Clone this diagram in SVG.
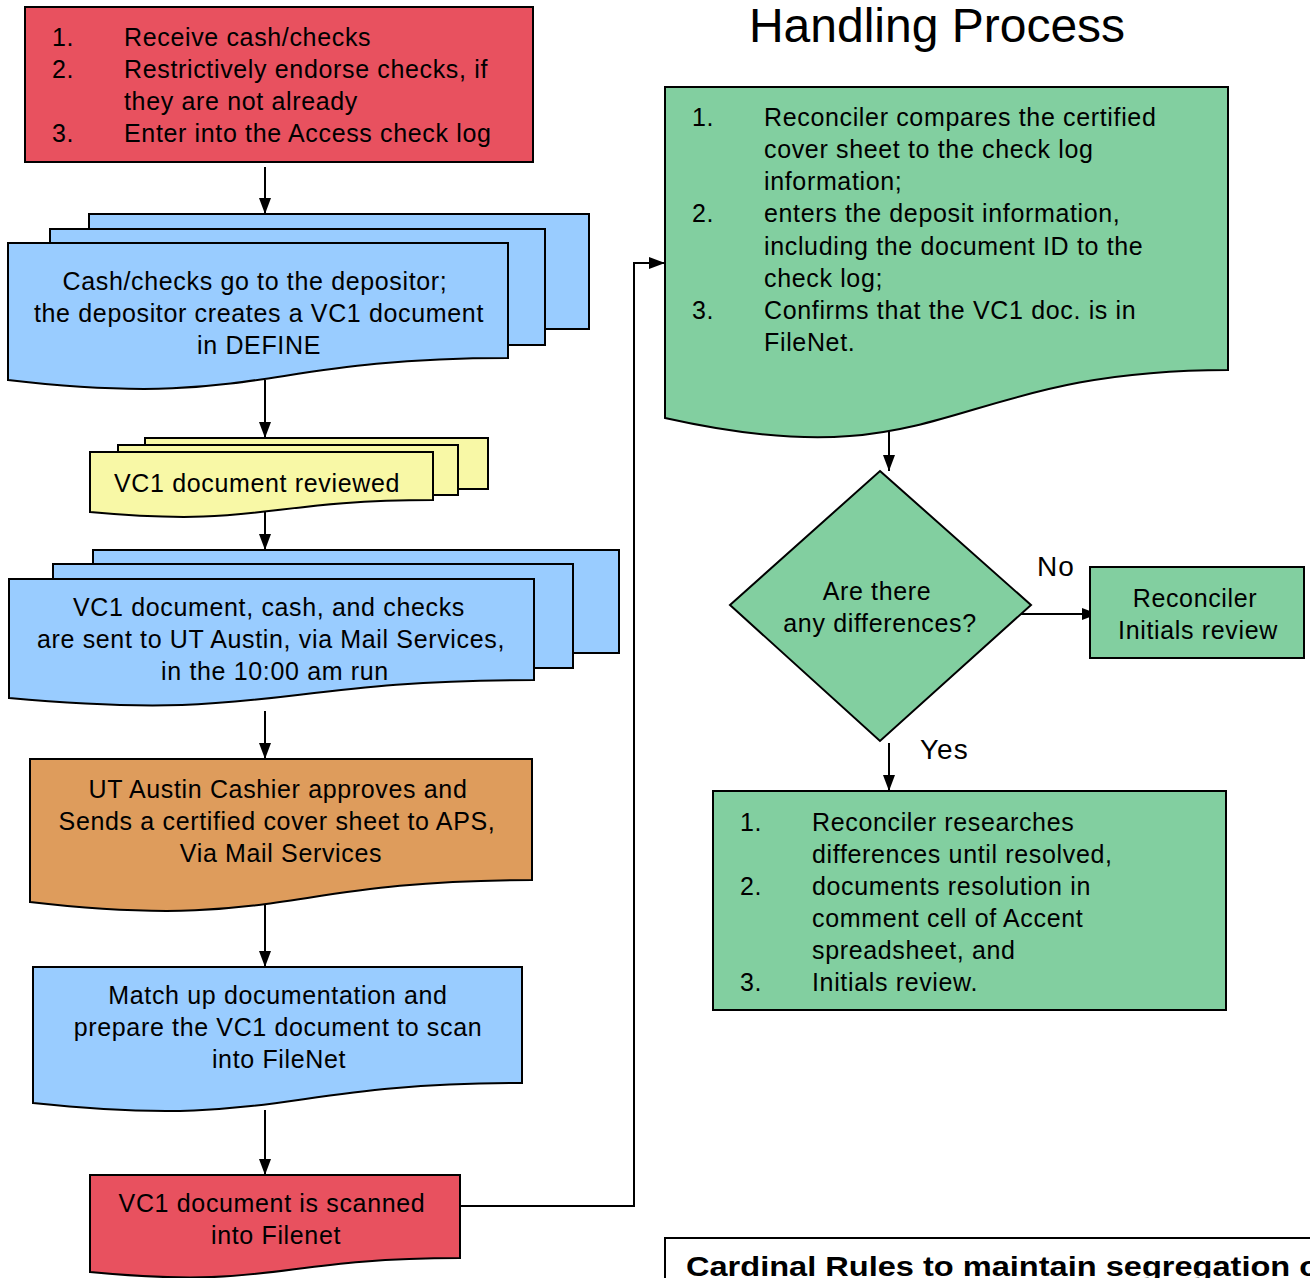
<svg xmlns="http://www.w3.org/2000/svg" width="1310" height="1278" viewBox="0 0 1310 1278">
<style>
  text { font-family: "Liberation Sans", Arial, sans-serif; font-size: 25px; letter-spacing: 0.65px; fill: #000; }
  .c { text-anchor: middle; }
  .shape { stroke: #000; stroke-width: 2; }
  .red { fill: #E8515F; }
  .blue { fill: #99CCFF; }
  .yellow { fill: #F8F8A6; }
  .orange { fill: #DE9C5C; }
  .green { fill: #82CFA0; }
  .conn { fill: none; stroke: #000; stroke-width: 2; }
  .title { font-size: 48px; letter-spacing: 0; }
  .lbl { font-size: 28px; letter-spacing: 1px; }
  .bold { font-weight: bold; font-size: 28px; letter-spacing: 0; }
</style>
<defs>
  <marker id="arr" markerUnits="userSpaceOnUse" markerWidth="16" markerHeight="16" viewBox="0 0 16 16" refX="16" refY="8" orient="auto">
    <path d="M0,2 L16,8 L0,14 Z" fill="#000"/>
  </marker>
</defs>

<text class="title c" x="937" y="42">Handling Process</text>

<g id="connectors">
  <line class="conn" x1="265" y1="167" x2="265" y2="214" marker-end="url(#arr)"/>
  <line class="conn" x1="265" y1="380" x2="265" y2="438" marker-end="url(#arr)"/>
  <line class="conn" x1="265" y1="505" x2="265" y2="550" marker-end="url(#arr)"/>
  <line class="conn" x1="265" y1="711" x2="265" y2="759" marker-end="url(#arr)"/>
  <line class="conn" x1="265" y1="903" x2="265" y2="967" marker-end="url(#arr)"/>
  <line class="conn" x1="265" y1="1110" x2="265" y2="1175" marker-end="url(#arr)"/>
  <path class="conn" d="M460,1206 H634 V263 H665" marker-end="url(#arr)"/>
  <line class="conn" x1="889" y1="423" x2="889" y2="471" marker-end="url(#arr)"/>
  <line class="conn" x1="1020" y1="614" x2="1098" y2="614" marker-end="url(#arr)"/>
  <line class="conn" x1="889" y1="743" x2="889" y2="791" marker-end="url(#arr)"/>
</g>

<g id="receive">
  <rect class="shape red" x="25" y="7" width="508" height="155"/>
  <text x="52" y="46">1.</text><text x="124" y="46">Receive cash/checks</text>
  <text x="52" y="78">2.</text><text x="124" y="78">Restrictively endorse checks, if</text>
  <text x="124" y="110">they are not already</text>
  <text x="52" y="142">3.</text><text x="124" y="142">Enter into the Access check log</text>
</g>

<g id="depositor">
  <rect class="shape blue" x="89" y="214" width="500" height="115"/>
  <rect class="shape blue" x="50" y="229" width="495" height="116"/>
  <path class="shape blue" d="M8,243 H508 V358 C258,358 258,409 8,380 Z"/>
  <text class="c" x="255" y="290">Cash/checks go to the depositor;</text>
  <text class="c" x="259" y="322">the depositor creates a VC1 document</text>
  <text class="c" x="259" y="354">in DEFINE</text>
</g>

<g id="reviewed">
  <rect class="shape yellow" x="145" y="438" width="343" height="51"/>
  <rect class="shape yellow" x="118" y="445" width="340" height="50"/>
  <path class="shape yellow" d="M90,452 H433 V500 C262,500 262,528 90,512 Z"/>
  <text x="114" y="492">VC1 document reviewed</text>
</g>

<g id="sent">
  <rect class="shape blue" x="93" y="550" width="526" height="103"/>
  <rect class="shape blue" x="53" y="564" width="520" height="104"/>
  <path class="shape blue" d="M9,579 H534 V680 C272,680 272,722 9,698 Z"/>
  <text class="c" x="269" y="616">VC1 document, cash, and checks</text>
  <text class="c" x="271" y="648">are sent to UT Austin, via Mail Services,</text>
  <text class="c" x="275" y="680">in the 10:00 am run</text>
</g>

<g id="cashier">
  <path class="shape orange" d="M30,759 H532 V880 C281,880 281,931 30,902 Z"/>
  <text class="c" x="278" y="798">UT Austin Cashier approves and</text>
  <text class="c" x="277" y="830">Sends a certified cover sheet to APS,</text>
  <text class="c" x="281" y="862">Via Mail Services</text>
</g>

<g id="match">
  <path class="shape blue" d="M33,967 H522 V1083 C278,1083 278,1129 33,1103 Z"/>
  <text class="c" x="278" y="1004">Match up documentation and</text>
  <text class="c" x="278" y="1036">prepare the VC1 document to scan</text>
  <text class="c" x="279" y="1068">into FileNet</text>
</g>

<g id="scanned">
  <path class="shape red" d="M90,1175 H460 V1258 C275,1258 275,1290 90,1272 Z"/>
  <text class="c" x="272" y="1212">VC1 document is scanned</text>
  <text class="c" x="276" y="1244">into Filenet</text>
</g>

<g id="reconcile">
  <path class="shape green" d="M665,87 H1228 V370 C946,370 946,481 665,418 Z"/>
  <text x="692" y="126">1.</text><text x="764" y="126">Reconciler compares the certified</text>
  <text x="764" y="158">cover sheet to the check log</text>
  <text x="764" y="190">information;</text>
  <text x="692" y="222">2.</text><text x="764" y="222">enters the deposit information,</text>
  <text x="764" y="255">including the document ID to the</text>
  <text x="764" y="287">check log;</text>
  <text x="692" y="319">3.</text><text x="764" y="319">Confirms that the VC1 doc. is in</text>
  <text x="764" y="351">FileNet.</text>
</g>

<g id="decision">
  <path class="shape green" d="M880,471 L1031,605 L880,741 L730,605 Z"/>
  <text class="c" x="877" y="600">Are there</text>
  <text class="c" x="880" y="632">any differences?</text>
</g>

<text class="lbl" x="1037" y="576">No</text>
<text class="lbl" x="920" y="759">Yes</text>

<g id="initials">
  <rect class="shape green" x="1090" y="567" width="214" height="91"/>
  <text class="c" x="1195" y="607">Reconciler</text>
  <text class="c" x="1198" y="639">Initials review</text>
</g>

<g id="research">
  <rect class="shape green" x="713" y="791" width="513" height="219"/>
  <text x="740" y="831">1.</text><text x="812" y="831">Reconciler researches</text>
  <text x="812" y="863">differences until resolved,</text>
  <text x="740" y="895">2.</text><text x="812" y="895">documents resolution in</text>
  <text x="812" y="927">comment cell of Accent</text>
  <text x="812" y="959">spreadsheet, and</text>
  <text x="740" y="991">3.</text><text x="812" y="991">Initials review.</text>
</g>

<g id="cardinal">
  <rect x="665" y="1238" width="660" height="60" fill="#fff" stroke="#000" stroke-width="2"/>
  <text class="bold" x="686" y="1276" textLength="644" lengthAdjust="spacingAndGlyphs">Cardinal Rules to maintain segregation of</text>
</g>
</svg>
